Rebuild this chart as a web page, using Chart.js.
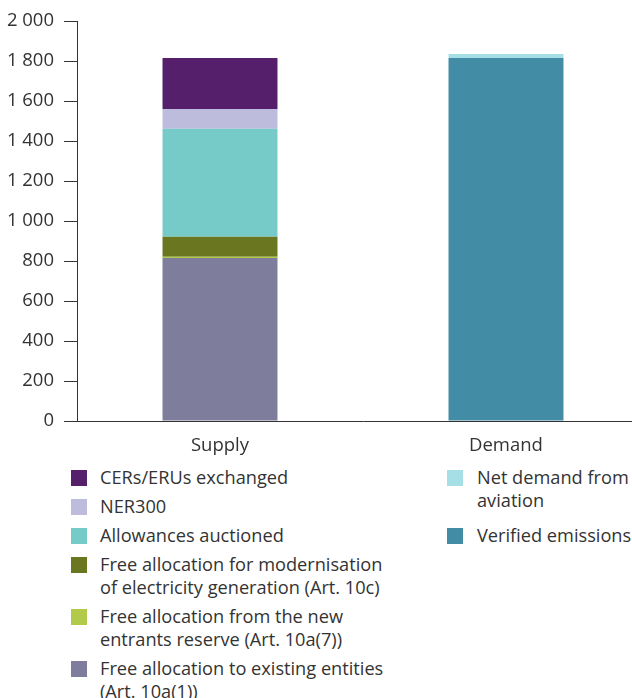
<!DOCTYPE html>
<html>
<head>
<meta charset="utf-8">
<script src="https://cdn.jsdelivr.net/npm/chart.js@4"></script>
<style>
    html, body { margin: 0; padding: 0; background: #fff; overflow: hidden; }
    body { width: 632px; height: 698px; position: relative; font-family: 'Open Sans', sans-serif; color: #333; }
    #wrap { position: absolute; left: 0; top: 0; width: 649px; height: 462px; }
    .legend { position: absolute; top: 466px; font-size: 18.2px; line-height: 23px; }
    .legend .item { display: flex; align-items: flex-start; margin-bottom: 6px; }
    .legend .box { width: 16px; height: 16px; flex: none; margin-top: 4px; }
    #legLeft { left: 71px; }
    #legLeft .item:nth-child(5) { margin-top: 4px; }
    #legLeft .txt { width: 296px; margin-left: 13px; }
    #legRight { left: 447px; }
    #legRight .item { margin-bottom: 12px; }
    #legRight .txt { width: 158px; margin-left: 14px; }
</style>
</head>
<body>
<div id="wrap"><canvas id="chart"></canvas></div>
<div class="legend" id="legLeft"></div>
<div class="legend" id="legRight"></div>
<script>
// Categories
var categories = ['Supply', 'Demand'];

// Supply side, bottom of the stack first
var supplyNames = [
    'Free allocation to existing entities (Art. 10a(1))',
    'Free allocation from the new entrants reserve (Art. 10a(7))',
    'Free allocation for modernisation of electricity generation (Art. 10c)',
    'Allowances auctioned',
    'NER300',
    'CERs/ERUs exchanged'
];
var supplyValues = [815, 6, 100, 540, 100, 255];
var supplyColors = ['#7f7d9c', '#b3c94a', '#6a7620', '#76cbc8', '#bebcdc', '#561f6b'];

// Demand side, bottom of the stack first
var demandNames = ['Verified emissions', 'Net demand from aviation'];
var demandValues = [1815, 20];
var demandColors = ['#428da5', '#a7dfe7'];

// Y axis
var yMax = 2000;
var yStep = 200;

var datasets = [];
supplyNames.forEach(function(name, i) {
    datasets.push({ label: name, data: [supplyValues[i], null], backgroundColor: supplyColors[i], stack: 's' });
});
demandNames.forEach(function(name, i) {
    datasets.push({ label: name, data: [null, demandValues[i]], backgroundColor: demandColors[i], stack: 's' });
});

function fmt(v) {
    return String(v).replace(/\B(?=(\d{3})+(?!\d))/g, ' ');
}

var ctx = document.getElementById('chart').getContext('2d');
var chart = new Chart(ctx, {
    type: 'bar',
    data: { labels: categories, datasets: datasets },
    options: {
        responsive: true,
        maintainAspectRatio: false,
        animation: false,
        categoryPercentage: 1,
        barPercentage: 0.402,
        layout: { padding: { top: 21, right: 0, left: 0, bottom: 0 } },
        plugins: { legend: { display: false }, tooltip: { enabled: false } },
        scales: {
            x: {
                stacked: true,
                grid: { display: false, drawTicks: false },
                border: { display: true, color: '#333', width: 1 },
                ticks: { color: '#333', padding: 14, font: { family: 'Open Sans', size: 18.5 } },
                afterFit: function(scale) { scale.height = 41; }
            },
            y: {
                stacked: true,
                min: 0,
                max: yMax,
                grid: { drawOnChartArea: false, drawTicks: true, tickLength: 13, color: '#333' },
                border: { display: true, color: '#333', width: 1 },
                ticks: {
                    stepSize: yStep,
                    color: '#333',
                    padding: 10,
                    font: { family: 'Open Sans', size: 18.5 },
                    callback: function(v) { return fmt(v); }
                },
                afterFit: function(scale) { scale.width = 77; }
            }
        }
    }
});

// HTML legend, top of the stack first
function addItem(el, name, color) {
    var item = document.createElement('div');
    item.className = 'item';
    item.innerHTML = '<div class="box" style="background:' + color + '"></div><div class="txt"></div>';
    item.querySelector('.txt').textContent = name;
    el.appendChild(item);
}
var legLeft = document.getElementById('legLeft');
for (var i = supplyNames.length - 1; i >= 0; i--) addItem(legLeft, supplyNames[i], supplyColors[i]);
var legRight = document.getElementById('legRight');
for (var j = demandNames.length - 1; j >= 0; j--) addItem(legRight, demandNames[j], demandColors[j]);
</script>
</body>
</html>
